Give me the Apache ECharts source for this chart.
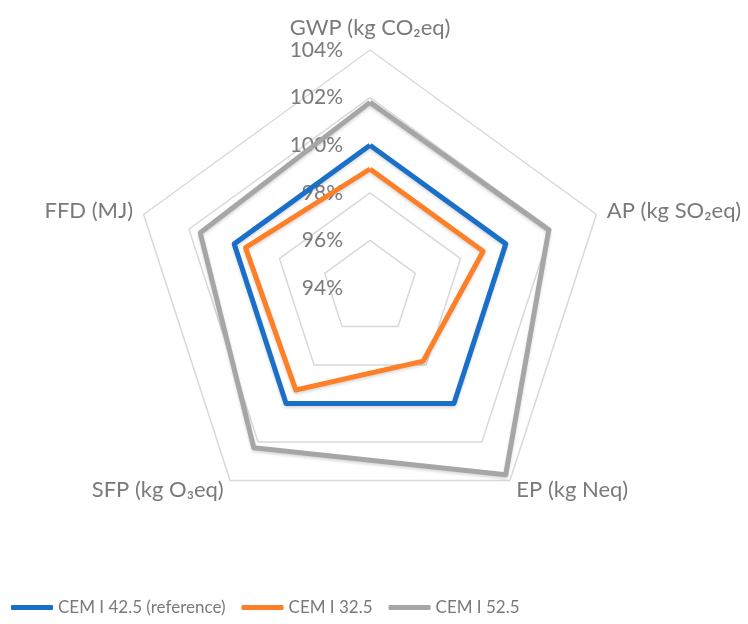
<!DOCTYPE html>
<html>
<head>
<meta charset="utf-8">
<script src="https://cdn.jsdelivr.net/npm/echarts@6/dist/echarts.min.js"></script>
<style>
  html, body { margin: 0; padding: 0; background: #fff; }
  #chart { width: 748px; height: 624px; }
</style>
</head>
<body>
<div id="chart"></div>
<script>
// ECharts lays radar axes out counter-clockwise, so the order here is
// GWP (top), FFD (left), SFP (lower left), EP (lower right), AP (right)
const indicators = ['GWP (kg CO₂eq)', 'FFD (MJ)', 'SFP (kg O₃eq)', 'EP (kg Neq)', 'AP (kg SO₂eq)'];
const cem425 = [100, 100, 100, 100, 100];
const cem325 = [99.0, 99.5, 99.3, 97.8, 99.0];
const cem525 = [101.8, 101.5, 102.3, 103.7, 101.9];
const scaleMin = 94;
const scaleMax = 104;
const scaleStep = 2;

const font = 'Lato, "Noto Sans", sans-serif';
const chart = echarts.init(document.getElementById('chart'));

chart.setOption({
  animation: false,
  // value scale shown along the GWP axis
  grid: { left: 370, top: 50, height: 238, width: 1 },
  xAxis: { type: 'value', show: false },
  yAxis: {
    type: 'value',
    min: scaleMin,
    max: scaleMax,
    interval: scaleStep,
    axisLine: { show: false },
    axisTick: { show: false },
    splitLine: { show: false },
    axisLabel: { formatter: '{value}%', margin: 27, fontSize: 21, color: '#7a7a7a', fontFamily: font }
  },
  radar: {
    center: [370, 288],
    radius: 238,
    startAngle: 90,
    splitNumber: 5,
    shape: 'polygon',
    nameGap: 11,
    indicator: indicators.map(n => ({ name: n, min: scaleMin, max: scaleMax })),
    axisName: { color: '#7a7a7a', fontSize: 22, fontFamily: font },
    splitLine: { lineStyle: { color: '#d9d9d9', width: 1.5 } },
    splitArea: { show: false },
    axisLine: { show: false },
    axisTick: { show: false },
    axisLabel: { show: false }
  },
  legend: {
    left: 6,
    top: 594,
    icon: 'roundRect',
    itemWidth: 42,
    itemHeight: 5,
    itemGap: 16,
    textStyle: { color: '#7a7a7a', fontSize: 17, fontFamily: font },
    data: ['CEM I 42.5 (reference)', 'CEM I 32.5', 'CEM I 52.5']
  },
  color: ['#1a6fc8', '#fd7f27', '#a6a6a6'],
  series: [{
    type: 'radar',
    symbol: 'none',
    lineStyle: { width: 5, shadowColor: 'rgba(0,0,0,0.15)', shadowBlur: 3, shadowOffsetY: 2 },
    data: [
      { name: 'CEM I 42.5 (reference)', value: cem425 },
      { name: 'CEM I 32.5', value: cem325 },
      { name: 'CEM I 52.5', value: cem525 }
    ]
  }]
});
</script>
</body>
</html>
